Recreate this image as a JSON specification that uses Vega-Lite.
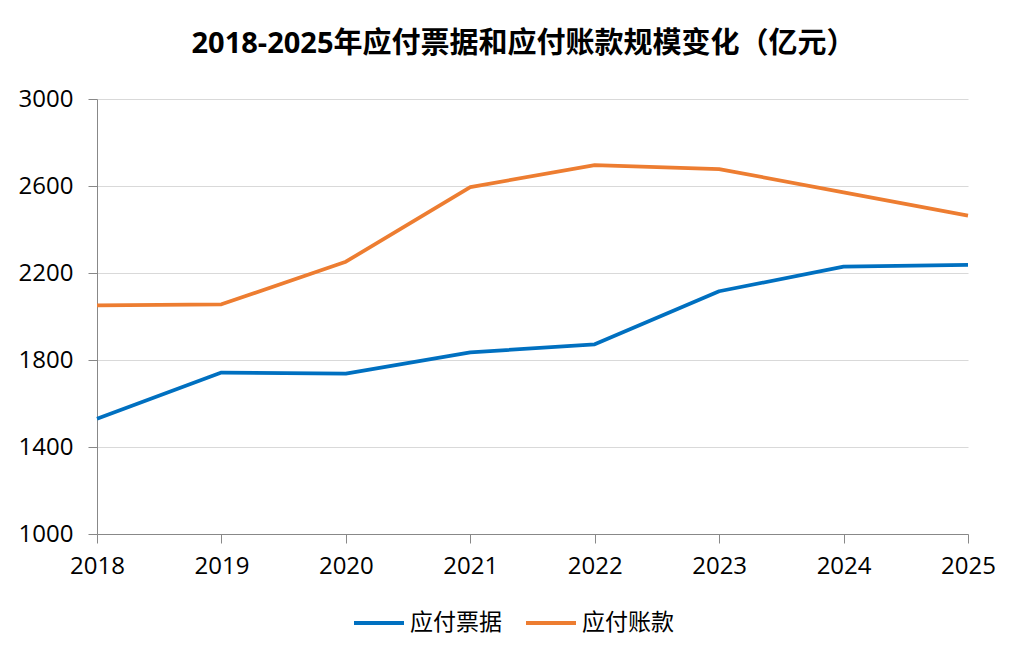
{
  "$schema": "https://vega.github.io/schema/vega-lite/v6.json",
  "width": 871,
  "height": 435,
  "autosize": "none",
  "padding": {"left": 97, "top": 99, "right": 56, "bottom": 126},
  "background": "white",
  "title": {
    "text": "2018-2025年应付票据和应付账款规模变化（亿元）",
    "font": "Open Sans, Noto Sans CJK SC",
    "fontSize": 29,
    "fontWeight": "bold",
    "color": "#000000",
    "anchor": "middle",
    "dx": -9,
    "offset": 28
  },
  "data": {
    "values": [
      {"year": 2018, "series": "应付票据", "value": 1530},
      {"year": 2019, "series": "应付票据", "value": 1742},
      {"year": 2020, "series": "应付票据", "value": 1737},
      {"year": 2021, "series": "应付票据", "value": 1835},
      {"year": 2022, "series": "应付票据", "value": 1872},
      {"year": 2023, "series": "应付票据", "value": 2116},
      {"year": 2024, "series": "应付票据", "value": 2229},
      {"year": 2025, "series": "应付票据", "value": 2237},
      {"year": 2018, "series": "应付账款", "value": 2051},
      {"year": 2019, "series": "应付账款", "value": 2056},
      {"year": 2020, "series": "应付账款", "value": 2252},
      {"year": 2021, "series": "应付账款", "value": 2595},
      {"year": 2022, "series": "应付账款", "value": 2696},
      {"year": 2023, "series": "应付账款", "value": 2678},
      {"year": 2024, "series": "应付账款", "value": 2571},
      {"year": 2025, "series": "应付账款", "value": 2464}
    ]
  },
  "mark": {"type": "line", "strokeWidth": 3.75, "strokeCap": "butt", "strokeJoin": "round"},
  "encoding": {
    "x": {
      "field": "year",
      "type": "quantitative",
      "scale": {"domain": [2018, 2025], "nice": false, "zero": false},
      "axis": {
        "title": null,
        "values": [2018, 2019, 2020, 2021, 2022, 2023, 2024, 2025],
        "format": "d",
        "grid": false,
        "domainColor": "#888888",
        "tickColor": "#888888",
        "tickSize": 9,
        "labelPadding": 11,
        "labelFontSize": 24,
        "labelFont": "Open Sans",
        "labelColor": "#000000",
        "labelFlush": false
      }
    },
    "y": {
      "field": "value",
      "type": "quantitative",
      "scale": {"domain": [1000, 3000], "nice": false, "zero": false},
      "axis": {
        "title": null,
        "values": [1000, 1400, 1800, 2200, 2600, 3000],
        "format": "d",
        "grid": true,
        "gridColor": "#d9d9d9",
        "gridWidth": 1,
        "domainColor": "#888888",
        "tickColor": "#888888",
        "tickSize": 9,
        "labelPadding": 15,
        "labelFontSize": 24,
        "labelFont": "Open Sans",
        "labelColor": "#000000"
      }
    },
    "color": {
      "field": "series",
      "type": "nominal",
      "scale": {"domain": ["应付票据", "应付账款"], "range": ["#0070C0", "#ED7D31"]},
      "legend": {
        "title": null,
        "orient": "none",
        "direction": "horizontal",
        "legendX": 255,
        "legendY": 497,
        "symbolType": "stroke",
        "symbolSize": 2500,
        "symbolStrokeWidth": 4,
        "labelFont": "Noto Sans CJK SC",
        "labelFontSize": 23,
        "labelColor": "#000000",
        "columnPadding": 16,
        "labelOffset": 4
      }
    }
  },
  "config": {
    "view": {"stroke": null}
  }
}
